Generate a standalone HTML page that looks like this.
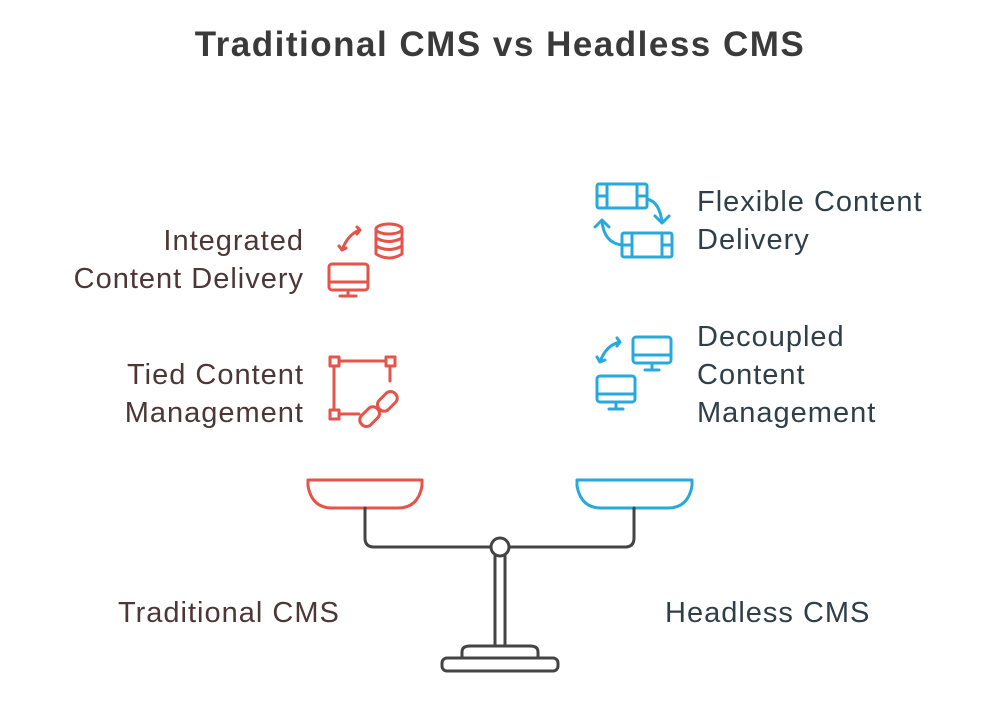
<!DOCTYPE html>
<html><head><style>
body{margin:0;width:1000px;height:708px;background:#fff;overflow:hidden;font-family:"Liberation Sans",sans-serif;}
.t{position:absolute;font-size:29px;line-height:38px;letter-spacing:1px;}
.l{color:#4d3636;text-align:right;}
.r{color:#2f3f48;}
</style></head><body>
<div style="position:absolute;top:25px;left:0;width:1000px;text-align:center;font-weight:bold;font-size:35px;letter-spacing:1.5px;color:#3a3a3a;">Traditional CMS vs Headless CMS</div>
<div class="t l" style="left:0;width:304px;top:222px;">Integrated<br>Content Delivery</div>
<div class="t l" style="left:0;width:304px;top:356px;">Tied Content<br>Management</div>
<div class="t r" style="left:697px;top:183px;">Flexible Content<br>Delivery</div>
<div class="t r" style="left:697px;top:318px;">Decoupled<br>Content<br>Management</div>
<div class="t l" style="left:118px;top:594px;text-align:left;">Traditional CMS</div>
<div class="t r" style="left:665px;top:594px;">Headless CMS</div>
<svg width="1000" height="708" style="position:absolute;left:0;top:0" fill="none" stroke-linecap="round" stroke-linejoin="round">
<g stroke="#e5534b" stroke-width="3">
<path d="M342 250 L339 246 M342 250 L346 248 M342 250 Q348 234 360 230 M360 230 L357 227 M360 230 L357 234"/>
<ellipse cx="389" cy="229" rx="13" ry="5"/><path d="M376 229 V254 Q389 262 402 254 V229 M376 238 Q389 245 402 238 M376 246 Q389 253 402 246"/>
<rect x="329" y="264" width="39" height="26" rx="3"/><path d="M329 282 H368 M348 290 V296 M340 296 H356"/>
<rect x="330" y="357" width="9" height="9"/><rect x="386" y="357" width="9" height="9"/><rect x="330" y="410" width="9" height="9"/>
<path d="M339 361 H386 M334 366 V410 M339 414 H359 M390 366 V381"/>
<rect x="363" y="406" width="13" height="22" rx="6" transform="rotate(45 370 417)"/><rect x="381" y="390" width="13" height="22" rx="6" transform="rotate(45 387 401)"/>
</g>
<g stroke="#27a9dc" stroke-width="3">
<rect x="597" y="184" width="50" height="24" rx="2"/><path d="M607 184 V208 M637 184 V208 M597 196 H607 M637 196 H647"/>
<rect x="622" y="233" width="50" height="24" rx="2"/><path d="M632 233 V257 M662 233 V257 M622 245 H632 M662 245 H672"/>
<path d="M647 199 Q660 202 662 223 M655 216 L662 223 L669 216"/>
<path d="M622 245 Q604 243 602 221 M595 227 L602 220 L609 227"/>
<rect x="633" y="337" width="38" height="26" rx="3"/><path d="M633 355 H671 M652 363 V370 M645 370 H659"/>
<rect x="597" y="376" width="38" height="26" rx="3"/><path d="M597 394 H635 M616 402 V409 M609 409 H623"/>
<path d="M600 362 L597 357 M600 362 L605 360 M600 362 Q606 345 620 342 M620 342 L617 338 M620 342 L617 346"/>
</g>
<path d="M308 480 H422 V486 Q418 508 398 508 H332 Q312 508 308 486 Z" stroke="#e5534b" stroke-width="3"/>
<path d="M577 480 H692 V486 Q688 508 668 508 H601 Q581 508 577 486 Z" stroke="#27a9dc" stroke-width="3"/>
<g stroke="#444" stroke-width="3">
<path d="M365 508 V538 Q365 547 374 547 H491 M509 547 H625 Q634 547 634 538 V508"/>
<circle cx="500" cy="547" r="9"/>
<path d="M495 556 V646 M505 556 V646"/>
<path d="M462 658 V652 Q462 646 470 646 H530 Q538 646 538 652 V658"/>
<rect x="442" y="658" width="116" height="13" rx="5"/>
</g>
</svg>
</body></html>
